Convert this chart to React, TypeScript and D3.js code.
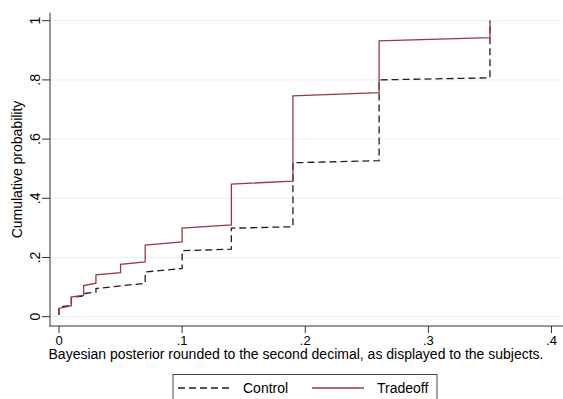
import { useEffect, useRef } from "react";
import * as d3 from "d3";

// distinct posterior values where the cumulative curves jump
const controlX = [0, 0.01, 0.02, 0.03, 0.07, 0.1, 0.14, 0.19, 0.26, 0.35];
const controlLow = [0.006, 0.038, 0.07, 0.083, 0.113, 0.163, 0.228, 0.304, 0.527, 0.807];
const controlHigh = [0.033, 0.065, 0.078, 0.095, 0.151, 0.223, 0.299, 0.52, 0.8, 1.0];

const tradeoffX = [0, 0.01, 0.02, 0.03, 0.05, 0.07, 0.1, 0.14, 0.19, 0.26, 0.35];
const tradeoffLow = [0.006, 0.037, 0.073, 0.113, 0.149, 0.185, 0.253, 0.31, 0.458, 0.757, 0.943];
const tradeoffHigh = [0.028, 0.066, 0.105, 0.141, 0.177, 0.242, 0.299, 0.448, 0.746, 0.932, 1.0];

const xTicks = [0, 0.1, 0.2, 0.3, 0.4];
const yTicks = [0, 0.2, 0.4, 0.6, 0.8, 1];
const seriesNames = ["Control", "Tradeoff"];

const fmt = (v: number) => (v === 0 ? "0" : v === 1 ? "1" : String(v).replace(/^0/, ""));

function toPoints(xs: number[], lo: number[], hi: number[]) {
  const pts: [number, number][] = [];
  xs.forEach((x, i) => {
    pts.push([x, lo[i]]);
    pts.push([x, hi[i]]);
  });
  return pts;
}

export default function App() {
  const ref = useRef<SVGSVGElement>(null);

  useEffect(() => {
    const width = 563;
    const height = 399;
    const font = "'Liberation Sans', Arial, sans-serif";
    const red = "#973a44";
    const dark = "#1e1e1e";

    const x = d3.scaleLinear().domain([0, 0.4]).range([59, 551.5]);
    const y = d3.scaleLinear().domain([0, 1]).range([316.7, 20.7]);

    const svg = d3.select(ref.current);
    svg.selectAll("*").remove();
    svg.attr("width", width).attr("height", height);

    svg.append("rect").attr("width", width).attr("height", height).attr("fill", "#fff");

    // gridlines
    svg
      .selectAll(".grid")
      .data(yTicks)
      .enter()
      .append("line")
      .attr("x1", 50)
      .attr("x2", 562)
      .attr("y1", (d) => y(d))
      .attr("y2", (d) => y(d))
      .attr("stroke", "#e9f1f2")
      .attr("stroke-width", 1);

    const line = d3
      .line<[number, number]>()
      .x((d) => x(d[0]))
      .y((d) => y(d[1]));

    // Control (dashed)
    svg
      .append("path")
      .attr("d", line(toPoints(controlX, controlLow, controlHigh)))
      .attr("fill", "none")
      .attr("stroke", dark)
      .attr("stroke-width", 1.3)
      .attr("stroke-dasharray", "7 4");

    // Tradeoff (solid)
    svg
      .append("path")
      .attr("d", line(toPoints(tradeoffX, tradeoffLow, tradeoffHigh)))
      .attr("fill", "none")
      .attr("stroke", red)
      .attr("stroke-width", 1.3);

    // axes lines
    svg.append("line").attr("x1", 50).attr("x2", 50).attr("y1", 12.7).attr("y2", 326.5)
      .attr("stroke", "#333").attr("stroke-width", 1);
    svg.append("line").attr("x1", 49.5).attr("x2", 563).attr("y1", 326).attr("y2", 326)
      .attr("stroke", "#333").attr("stroke-width", 1);

    // y ticks
    svg.selectAll(".yt").data(yTicks).enter().append("line")
      .attr("x1", 42).attr("x2", 50)
      .attr("y1", (d) => y(d)).attr("y2", (d) => y(d))
      .attr("stroke", "#333");
    svg.selectAll(".yl").data(yTicks).enter().append("text")
      .attr("transform", (d) => `translate(39.5,${y(d)}) rotate(-90)`)
      .attr("text-anchor", "middle")
      .style("font-family", font)
      .style("font-size", "14px")
      .attr("fill", "#000")
      .text((d) => fmt(d));

    // x ticks
    svg.selectAll(".xt").data(xTicks).enter().append("line")
      .attr("x1", (d) => x(d)).attr("x2", (d) => x(d))
      .attr("y1", 326).attr("y2", 333)
      .attr("stroke", "#333");
    svg.selectAll(".xl").data(xTicks).enter().append("text")
      .attr("x", (d) => x(d))
      .attr("y", 345)
      .attr("text-anchor", "middle")
      .style("font-family", font)
      .style("font-size", "13px")
      .text((d) => fmt(d));

    // axis titles
    svg.append("text")
      .attr("transform", "translate(22,169.5) rotate(-90)")
      .attr("text-anchor", "middle")
      .style("font-family", font)
      .style("font-size", "14px")
      .text("Cumulative probability");

    svg.append("text")
      .attr("x", 296)
      .attr("y", 359)
      .attr("text-anchor", "middle")
      .style("font-family", font)
      .style("font-size", "14px")
      .text("Bayesian posterior rounded to the second decimal, as displayed to the subjects.");

    // legend
    svg.append("rect")
      .attr("x", 173).attr("y", 374.5).attr("width", 264).attr("height", 34)
      .attr("fill", "#fff").attr("stroke", "#444").attr("stroke-width", 1);

    const legendItems = [
      { name: seriesNames[0], x0: 178, x1: 232, tx: 243, color: dark, dash: "7 4" },
      { name: seriesNames[1], x0: 312, x1: 364, tx: 377, color: red, dash: null },
    ];
    legendItems.forEach((it) => {
      svg.append("line")
        .attr("x1", it.x0).attr("x2", it.x1).attr("y1", 388).attr("y2", 388)
        .attr("stroke", it.color).attr("stroke-width", 1.3)
        .attr("stroke-dasharray", it.dash);
      svg.append("text")
        .attr("x", it.tx).attr("y", 393)
        .style("font-family", font)
        .style("font-size", "14px")
        .text(it.name);
    });
  }, []);

  return <svg ref={ref} style={{ position: "absolute", left: 0, top: 0 }} />;
}
